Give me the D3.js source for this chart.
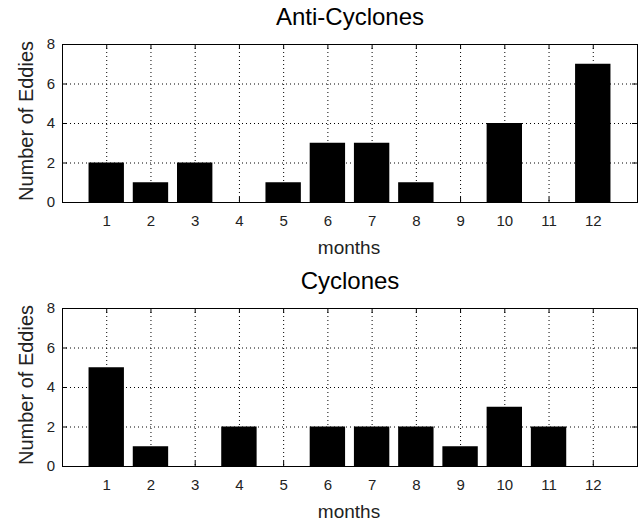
<!DOCTYPE html>
<html>
<head>
<meta charset="utf-8">
<script src="https://cdn.jsdelivr.net/npm/d3@7"></script>
<style>
  body { margin: 0; background: #fff; }
  svg { display: block; font-family: "Liberation Sans", Arial, sans-serif; }
  .grid line { stroke: #000; stroke-dasharray: 1 3; stroke-width: 1; }
</style>
</head>
<body>
<div id="chart"></div>
<script>
var months = [1, 2, 3, 4, 5, 6, 7, 8, 9, 10, 11, 12];
var antiCyclones = [2, 1, 2, 0, 1, 3, 3, 1, 0, 4, 0, 7];
var cyclones = [5, 1, 0, 2, 0, 2, 2, 2, 1, 3, 2, 0];
var yTicks = [0, 2, 4, 6, 8];

var W = 641, H = 523;
var svg = d3.select("#chart").append("svg")
    .attr("width", W)
    .attr("height", H);

var x = d3.scaleLinear().domain([0, 13]).range([62, 637]);
var barW = (x(1) - x(0)) * 0.8;

function panel(top, title, values) {
    var y = d3.scaleLinear().domain([0, 8]).range([top + 158, top]);
    var g = svg.append("g");

    // dotted grid
    var grid = g.append("g").attr("class", "grid");
    grid.selectAll("line.v").data(months).enter().append("line")
        .attr("x1", function(d) { return x(d) + 0.5; })
        .attr("x2", function(d) { return x(d) + 0.5; })
        .attr("y1", y(8)).attr("y2", y(0));
    grid.selectAll("line.h").data(yTicks.slice(1, 4)).enter().append("line")
        .attr("x1", x(0)).attr("x2", x(13))
        .attr("y1", function(d) { return y(d) + 0.5; })
        .attr("y2", function(d) { return y(d) + 0.5; });

    // bars
    g.selectAll("rect.bar").data(values).enter().append("rect")
        .attr("x", function(d, i) { return x(months[i]) - barW / 2; })
        .attr("width", barW)
        .attr("y", function(d) { return y(d); })
        .attr("height", function(d) { return y(0) - y(d); })
        .attr("fill", "#000");

    // axes with inward ticks (matlab style)
    var axB = d3.axisBottom(x).tickValues(months).tickSize(-5).tickPadding(13);
    var axT = d3.axisTop(x).tickValues(months).tickSize(-5).tickFormat("");
    var axL = d3.axisLeft(y).tickValues(yTicks).tickSize(-5).tickPadding(7);
    var axR = d3.axisRight(y).tickValues(yTicks).tickSize(-5).tickFormat("");

    [[axB, "translate(0," + y(0) + ")"], [axT, "translate(0," + y(8) + ")"],
     [axL, "translate(" + x(0) + ",0)"], [axR, "translate(" + x(13) + ",0)"]].forEach(function(a) {
        var ag = g.append("g").attr("transform", a[1]).call(a[0]);
        ag.select(".domain").remove();
        ag.selectAll("line").attr("stroke", "#000");
        ag.selectAll("text").attr("font-size", 15).attr("fill", "#222")
            .attr("font-family", "Liberation Sans, Arial, sans-serif");
    });

    g.append("rect")
        .attr("x", x(0) + 0.5).attr("y", y(8) + 0.5)
        .attr("width", x(13) - x(0)).attr("height", y(0) - y(8))
        .attr("fill", "none").attr("stroke", "#000");

    g.append("text")
        .attr("x", 350).attr("y", top - 19)
        .attr("text-anchor", "middle")
        .attr("font-size", 24)
        .text(title);

    g.append("text")
        .attr("x", 349).attr("y", top + 210)
        .attr("text-anchor", "middle")
        .attr("font-size", 19)
        .attr("fill", "#222")
        .text("months");

    g.append("text")
        .attr("transform", "translate(33," + (top + 77) + ") rotate(-90)")
        .attr("text-anchor", "middle")
        .attr("font-size", 20)
        .attr("fill", "#222")
        .text("Number of Eddies");
}

panel(44, "Anti-Cyclones", antiCyclones);
panel(308, "Cyclones", cyclones);
</script>
</body>
</html>
